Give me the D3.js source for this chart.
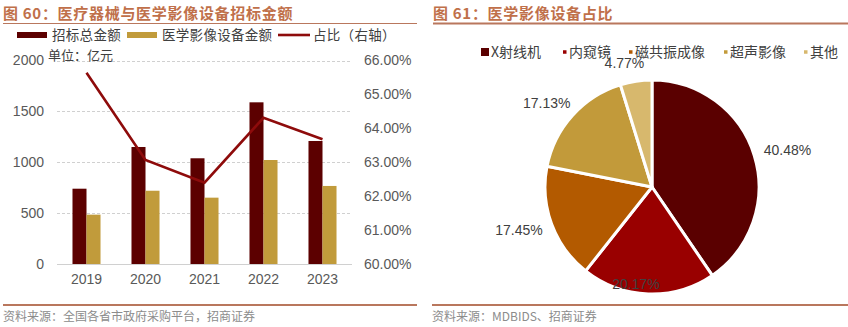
<!DOCTYPE html>
<html><head><meta charset="utf-8">
<script src="https://cdn.jsdelivr.net/npm/d3@7"></script>
<style>
body{margin:0;background:#fff;}
svg{display:block;}
text{font-family:"Liberation Sans",Arial,"Noto Sans CJK SC",sans-serif;}
.cjk{font-family:"Noto Sans CJK SC",sans-serif;}
</style></head>
<body>
<svg id="c" width="848" height="327"></svg>
<script>
// ---------- data ----------
const years = ["2019","2020","2021","2022","2023"];
const totalAmount = [740, 1150, 1039, 1589, 1209];      // 招标总金额 (亿元)
const imagingAmount = [485, 720, 652, 1022, 767];        // 医学影像设备金额 (亿元)
const shareRatio = [65.64, 63.07, 62.40, 64.31, 63.68];  // 占比 (%), right axis
const leftTicks = [0, 500, 1000, 1500, 2000];
const rightTicks = [60, 61, 62, 63, 64, 65, 66];
const barSeriesNames = ["招标总金额", "医学影像设备金额"];
const lineSeriesName = "占比（右轴）";

const pieCategories = ["X射线机", "内窥镜", "磁共振成像", "超声影像", "其他"];
const pieValues = [40.48, 20.17, 17.45, 17.13, 4.77];

// ---------- styles ----------
const C_DARK = "#5c0000", C_GOLD = "#c19b3b", C_LINE = "#8e0b0b";
const pieColors = ["#5a0000", "#990000", "#b35a00", "#c29a3a", "#d7b86d"];
const TITLE_C = "#c0704a", RULE_C = "#b9775d";
const TICK_C = "#595959";

const svg = d3.select("#c");

// ---------- headers / footers ----------
function header(x0, x1, label, ruleW) {
  svg.append("text").attr("class","cjk").attr("x", x0).attr("y", 19)
    .attr("font-size", 15).attr("font-weight", "bold").attr("letter-spacing", 0.7)
    .attr("fill", TITLE_C).text(label);
  svg.append("line").attr("x1", x0).attr("x2", x1).attr("y1", 23.5).attr("y2", 23.5)
    .attr("stroke", RULE_C).attr("stroke-width", ruleW);
}
function footer(x0, x1, label) {
  svg.append("line").attr("x1", x0).attr("x2", x1).attr("y1", 305).attr("y2", 305)
    .attr("stroke", RULE_C).attr("stroke-width", 2);
  svg.append("text").attr("class","cjk").attr("x", x0).attr("y", 321)
    .attr("font-size", 12).attr("fill", "#8c8c8c").text(label);
}
header(3, 417, "图 60：医疗器械与医学影像设备招标金额", 1.2);
header(433, 848, "图 61：医学影像设备占比", 2);
footer(3, 417, "资料来源：全国各省市政府采购平台，招商证券");
footer(432, 848, "资料来源：MDBIDS、招商证券");

// ---------- left chart ----------
const x = d3.scaleBand().domain(years).range([57, 352]).paddingInner(0.525).paddingOuter(0.2625);
const xs = d3.scaleBand().domain(barSeriesNames).range([0, x.bandwidth()]);
const y = d3.scaleLinear().domain([0, 2000]).range([264, 60.5]);
const y2 = d3.scaleLinear().domain([60, 66]).range([264, 60.5]);

// gridlines
svg.append("g").selectAll("line").data(leftTicks.filter(d => d > 0)).join("line")
  .attr("x1", 57).attr("x2", 352).attr("y1", d => Math.round(y(d)) + 0.5).attr("y2", d => Math.round(y(d)) + 0.5)
  .attr("stroke", "#d0d0d0").attr("stroke-dasharray", "3,2").attr("stroke-width", 1);

// bars
const barData = years.map((yr, i) => [
  {yr, s: barSeriesNames[0], v: totalAmount[i], c: C_DARK},
  {yr, s: barSeriesNames[1], v: imagingAmount[i], c: C_GOLD}
]).flat();
svg.append("g").selectAll("rect").data(barData).join("rect")
  .attr("x", d => x(d.yr) + xs(d.s)).attr("width", xs.bandwidth())
  .attr("y", d => y(d.v)).attr("height", d => y(0) - y(d.v)).attr("fill", d => d.c);

// baseline
svg.append("line").attr("x1", 57).attr("x2", 352).attr("y1", 264.5).attr("y2", 264.5)
  .attr("stroke", "#d0d0d0");

// left axis
const axL = svg.append("g").attr("transform", "translate(44,0)")
  .call(d3.axisLeft(y).tickValues(leftTicks).tickSize(0).tickPadding(0).tickFormat(d3.format("d")));
axL.select(".domain").remove();
axL.selectAll("text").attr("font-size", 14).attr("fill", TICK_C).attr("font-family", "Liberation Sans, Arial");

// right axis
const axR = svg.append("g").attr("transform", "translate(364,0)")
  .call(d3.axisRight(y2).tickValues(rightTicks).tickSize(0).tickPadding(0).tickFormat(d => d.toFixed(2) + "%"));
axR.select(".domain").remove();
axR.selectAll("text").attr("font-size", 14).attr("fill", TICK_C).attr("font-family", "Liberation Sans, Arial");

// x axis
const axB = svg.append("g").attr("transform", "translate(0,264)")
  .call(d3.axisBottom(x).tickSize(0).tickPadding(10));
axB.select(".domain").remove();
axB.selectAll("text").attr("font-size", 14).attr("fill", TICK_C).attr("font-family", "Liberation Sans, Arial");

// line
const lineGen = d3.line().x((d, i) => x(years[i]) + x.bandwidth() / 2).y(d => y2(d));
svg.append("path").datum(shareRatio).attr("d", lineGen)
  .attr("fill", "none").attr("stroke", C_LINE).attr("stroke-width", 2.6);

// unit label
svg.append("text").attr("class","cjk").attr("x", 48).attr("y", 60).attr("font-size", 13)
  .attr("fill", "#404040").text("单位：亿元");

// legend
const lg = svg.append("g");
const legItems = [
  {type: "rect", c: C_DARK, label: barSeriesNames[0], x: 17},
  {type: "rect", c: C_GOLD, label: barSeriesNames[1], x: 127},
  {type: "line", c: C_LINE, label: lineSeriesName, x: 278}
];
legItems.forEach(it => {
  if (it.type === "rect") lg.append("rect").attr("x", it.x).attr("y", 32).attr("width", 30).attr("height", 6).attr("fill", it.c);
  else lg.append("line").attr("x1", it.x).attr("x2", it.x + 32).attr("y1", 35).attr("y2", 35).attr("stroke", it.c).attr("stroke-width", 2.6);
  lg.append("text").attr("class","cjk").attr("x", it.x + 35).attr("y", 40).attr("font-size", 13.5)
    .attr("letter-spacing", 0.3).attr("fill", "#404040").text(it.label);
});

// ---------- pie chart ----------
const cx = 652, cy = 187, R = 107;
const pie = d3.pie().sort(null).value(d => d.v).startAngle(0).endAngle(2 * Math.PI);
const pieData = pie(pieCategories.map((k, i) => ({k, v: pieValues[i], c: pieColors[i]})));
const arc = d3.arc().innerRadius(0).outerRadius(R);
const pg = svg.append("g").attr("transform", `translate(${cx},${cy})`);
pg.selectAll("path").data(pieData).join("path")
  .attr("d", arc).attr("fill", d => d.data.c).attr("stroke", "#fff").attr("stroke-width", 3).attr("stroke-linejoin", "round");

// labels
const R0 = 118;
pieData.forEach(d => {
  const a = (d.startAngle + d.endAngle) / 2;
  const sx = Math.sin(a), sy = -Math.cos(a);
  const label = d.data.v.toFixed(2) + "%";
  const t = pg.append("text").attr("font-size", 14).attr("fill", "#404040")
    .attr("text-anchor", "middle").attr("font-family", "Liberation Sans, Arial").text(label);
  const w = t.node().getComputedTextLength(), h = 14;
  let lx = R0 * sx + Math.sign(sx) * Math.max(Math.abs(sx), 0.5) * w / 2;
  let ly = R0 * sy + sy * h / 2;
  ly = Math.min(ly, 97); // clamp inside chart area
  t.attr("x", lx).attr("y", ly + 5);
});

// pie legend
const pl = svg.append("g");
const legX = [481, 561, 627, 722, 802];
pieCategories.forEach((k, i) => {
  const s = i === 0 ? 8 : 3.5;
  pl.append("rect").attr("x", legX[i] + (i === 0 ? 0 : 2)).attr("y", 52 - s / 2).attr("width", s).attr("height", s).attr("fill", pieColors[i]);
  pl.append("text").attr("class","cjk").attr("x", legX[i] + (i === 0 ? 10 : 8)).attr("y", 57).attr("font-size", 14)
    .attr("fill", "#404040").text(k);
});
</script>
</body></html>
